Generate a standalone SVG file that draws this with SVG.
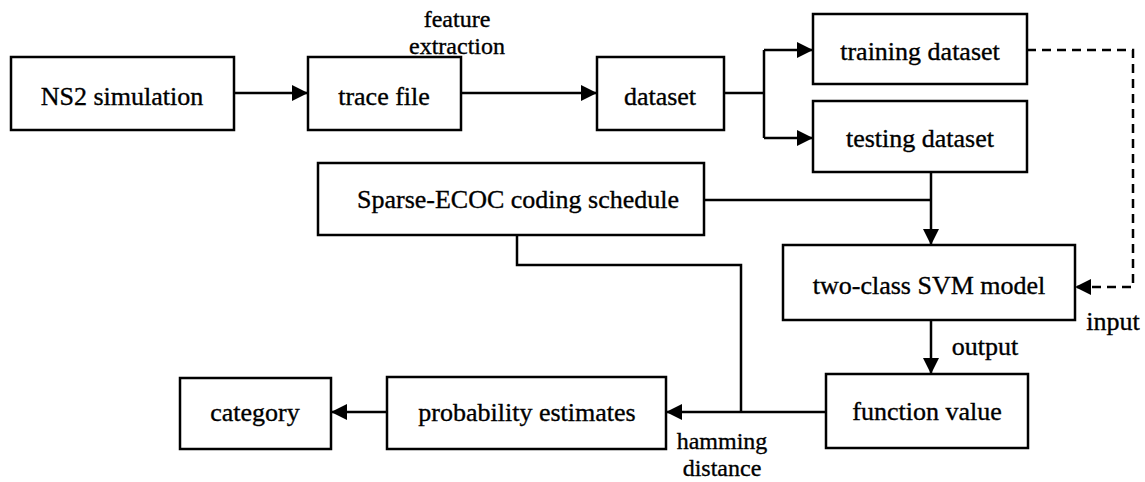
<svg xmlns="http://www.w3.org/2000/svg" width="1145" height="482" viewBox="0 0 1145 482">
  <style>
    .box { fill: #ffffff; stroke: #000000; stroke-width: 2.5; }
    .lbl { font-family: "Liberation Serif", "DejaVu Serif", serif; font-size: 26px; fill: #000000; stroke: #000000; stroke-width: 0.35; text-anchor: middle; dominant-baseline: central; }
    .two { font-size: 24px; }
    .wire { fill: none; stroke: #000000; stroke-width: 2.5; }
    .dash { fill: none; stroke: #000000; stroke-width: 2.5; stroke-dasharray: 9 6; }
  </style>
  <defs>
    <marker id="arrowBig" viewBox="0 0 16 16" refX="16" refY="8" markerWidth="16" markerHeight="16" markerUnits="userSpaceOnUse" orient="auto">
      <path d="M0,0 L16,8 L0,16 Z" fill="#000000"/>
    </marker>
  </defs>
  <rect width="1145" height="482" fill="#ffffff"/>

  <g id="connectors">
    <path class="wire" d="M234,93 H308" marker-end="url(#arrowBig)"/>
    <path class="wire" d="M461,93 H597" marker-end="url(#arrowBig)"/>
    <path class="wire" d="M724,93 H764"/>
    <path class="wire" d="M764,50 V138"/>
    <path class="wire" d="M764,50 H813" marker-end="url(#arrowBig)"/>
    <path class="wire" d="M764,138 H813" marker-end="url(#arrowBig)"/>
    <path class="dash" d="M1027,50 H1133 V287 H1075" marker-end="url(#arrowBig)"/>
    <path class="wire" d="M704,200 H931"/>
    <path class="wire" d="M931,172 V245" marker-end="url(#arrowBig)"/>
    <path class="wire" d="M931,320 V374" marker-end="url(#arrowBig)"/>
    <path class="wire" d="M826,412 H666" marker-end="url(#arrowBig)"/>
    <path class="wire" d="M517,235 V265 H741 V412"/>
    <path class="wire" d="M387,412 H331" marker-end="url(#arrowBig)"/>
    <text class="lbl two" x="457" y="19">feature</text>
    <text class="lbl two" x="457" y="46">extraction</text>
    <text class="lbl" x="1113" y="321">input</text>
    <text class="lbl" x="985" y="346">output</text>
    <text class="lbl two" x="722" y="441">hamming</text>
    <text class="lbl two" x="722" y="468">distance</text>
  </g>

  <g id="ns2">
    <rect class="box" x="11" y="57" width="223" height="73"/>
    <text class="lbl" x="122" y="96">NS2 simulation</text>
  </g>
  <g id="trace">
    <rect class="box" x="308" y="57" width="153" height="73"/>
    <text class="lbl" x="384" y="96">trace file</text>
  </g>
  <g id="dataset">
    <rect class="box" x="597" y="57" width="127" height="73"/>
    <text class="lbl" x="660" y="96">dataset</text>
  </g>
  <g id="training">
    <rect class="box" x="813" y="14" width="214" height="70"/>
    <text class="lbl" x="920" y="51">training dataset</text>
  </g>
  <g id="testing">
    <rect class="box" x="813" y="101" width="214" height="71"/>
    <text class="lbl" x="920" y="138">testing dataset</text>
  </g>
  <g id="sparse">
    <rect class="box" x="318" y="163" width="386" height="72"/>
    <text class="lbl" x="518" y="199">Sparse-ECOC coding schedule</text>
  </g>
  <g id="svm">
    <rect class="box" x="783" y="245" width="292" height="75"/>
    <text class="lbl" x="929" y="285">two-class SVM model</text>
  </g>
  <g id="function">
    <rect class="box" x="826" y="374" width="202" height="74"/>
    <text class="lbl" x="927" y="411">function value</text>
  </g>
  <g id="probability">
    <rect class="box" x="387" y="377" width="279" height="72"/>
    <text class="lbl" x="527" y="412">probability estimates</text>
  </g>
  <g id="category">
    <rect class="box" x="180" y="378" width="151" height="71"/>
    <text class="lbl" x="255" y="412">category</text>
  </g>
</svg>
